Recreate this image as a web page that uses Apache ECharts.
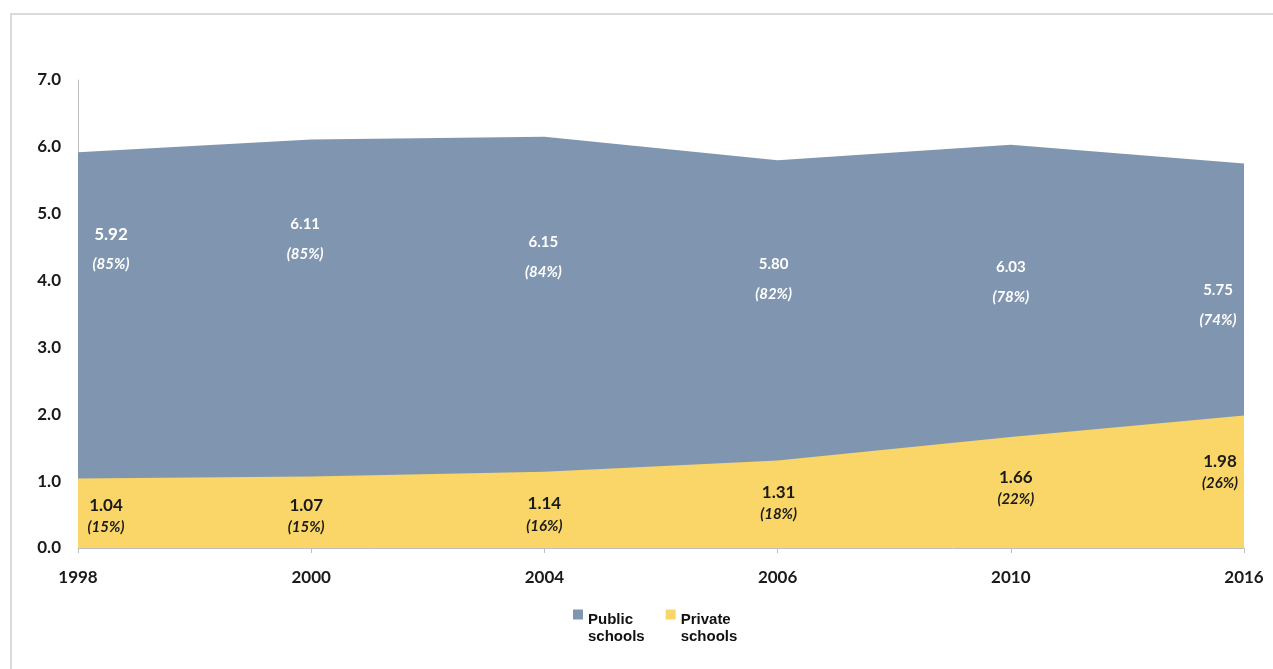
<!DOCTYPE html>
<html>
<head>
<meta charset="utf-8">
<title>Public and private schools</title>
<script src="https://cdn.jsdelivr.net/npm/echarts@6/dist/echarts.min.js"></script>
<style>
  html, body { margin: 0; padding: 0; background: #ffffff; }
  #chart { width: 1273px; height: 669px; }
</style>
</head>
<body>
<div id="chart"></div>
<script>
// Years on the horizontal axis
const years = ['1998', '2000', '2004', '2006', '2010', '2016'];
// Enrolment (millions)
const publicSchools = [5.92, 6.11, 6.15, 5.80, 6.03, 5.75];
const privateSchools = [1.04, 1.07, 1.14, 1.31, 1.66, 1.98];
// Share of total enrolment, as printed under each value
const publicShare = ['85%', '85%', '84%', '82%', '78%', '74%'];
const privateShare = ['15%', '15%', '16%', '18%', '22%', '26%'];
// Y axis
const yTicks = [0, 1, 2, 3, 4, 5, 6, 7];

// Label placement (pixels from each point) and per-point font size
const publicLabelOffset = [[33, 97], [-6, 100], [-1, 120], [-4, 119], [0, 137], [-26, 142]];
const publicValueSize = [17, 15, 15, 15, 15, 15];
const privateLabelOffset = [[28, 38], [-5, 40], [0, 43], [1, 43], [5, 51], [-24, 57]];

const BLUE = '#8096b0';
const YELLOW = '#f9d667';
const FONT = 'Lato, "Open Sans", sans-serif';
const LEGEND_FONT = '"Liberation Sans", Arial, sans-serif';

const chart = echarts.init(document.getElementById('chart'), null, { renderer: 'canvas' });

const publicData = publicSchools.map((v, i) => ({
  value: v,
  label: {
    offset: publicLabelOffset[i],
    rich: {
      v: { fontSize: publicValueSize[i], color: '#ffffff', fontFamily: FONT, fontWeight: 'bold', lineHeight: 30, align: 'center' },
      p: { fontSize: 15, color: '#ffffff', fontFamily: FONT, fontWeight: 'bold', fontStyle: 'italic', lineHeight: 30, align: 'center' }
    }
  }
}));

const privateData = privateSchools.map((v, i) => ({
  value: v,
  label: { offset: privateLabelOffset[i] }
}));

chart.setOption({
  animation: false,
  backgroundColor: '#ffffff',
  graphic: [{
    type: 'rect',
    z: -10,
    shape: { x: 11, y: 14, width: 1400, height: 800 },
    style: { fill: 'none', stroke: '#dadada', lineWidth: 2 }
  }],
  grid: { left: 78, right: 29, top: 80, bottom: 121, containLabel: false },
  legend: {
    left: 568,
    top: 585,
    icon: 'rect',
    itemWidth: 10,
    itemHeight: 10,
    itemGap: 21,
    textStyle: {
      fontFamily: LEGEND_FONT,
      fontWeight: 'bold',
      fontSize: 15,
      color: '#111111',
      rich: {
        // spacer line keeps the swatch level with the first word
        e: { fontSize: 15, lineHeight: 27 },
        t: { fontFamily: LEGEND_FONT, fontWeight: 'bold', fontSize: 15, color: '#111111', lineHeight: 17 }
      }
    },
    formatter: name => {
      const parts = name.split(' ');
      return '{e| }\n{t|' + parts[0] + '}\n{t|' + parts[1] + '}';
    },
    data: [
      { name: 'Public schools', itemStyle: { color: BLUE } },
      { name: 'Private schools', itemStyle: { color: YELLOW } }
    ]
  },
  xAxis: {
    type: 'category',
    data: years,
    boundaryGap: false,
    axisLine: { show: true, lineStyle: { color: '#bfbfbf', width: 1 } },
    axisTick: { show: true, length: 5, lineStyle: { color: '#bfbfbf' } },
    axisLabel: {
      margin: 21,
      fontFamily: FONT,
      fontWeight: 'bold',
      fontSize: 17,
      color: '#1a1a1a'
    },
    splitLine: { show: false }
  },
  yAxis: {
    type: 'value',
    min: yTicks[0],
    max: yTicks[yTicks.length - 1],
    interval: 1,
    axisLine: { show: true, lineStyle: { color: '#bfbfbf', width: 1 } },
    axisTick: { show: false },
    splitLine: { show: false },
    axisLabel: {
      margin: 17,
      fontFamily: FONT,
      fontWeight: 'bold',
      fontSize: 17,
      color: '#1a1a1a',
      formatter: v => v.toFixed(1)
    }
  },
  series: [
    {
      name: 'Public schools',
      type: 'line',
      data: publicData,
      z: 2,
      symbol: 'circle',
      symbolSize: 1,
      showSymbol: true,
      itemStyle: { color: 'transparent', borderWidth: 0 },
      lineStyle: { width: 0, opacity: 0 },
      areaStyle: { color: BLUE, opacity: 1, origin: 'start' },
      label: {
        show: true,
        position: 'inside',
        formatter: p => '{v|' + p.value.toFixed(2) + '}\n{p|(' + publicShare[p.dataIndex] + ')}'
      },
      emphasis: { disabled: true }
    },
    {
      name: 'Private schools',
      type: 'line',
      data: privateData,
      z: 3,
      symbol: 'circle',
      symbolSize: 1,
      showSymbol: true,
      itemStyle: { color: 'transparent', borderWidth: 0 },
      lineStyle: { width: 0, opacity: 0 },
      areaStyle: { color: YELLOW, opacity: 1, origin: 'start' },
      label: {
        show: true,
        position: 'inside',
        formatter: p => '{v|' + p.value.toFixed(2) + '}\n{p|(' + privateShare[p.dataIndex] + ')}',
        rich: {
          v: { fontSize: 17, color: '#1a1a1a', fontFamily: FONT, fontWeight: 'bold', lineHeight: 22, align: 'center' },
          p: { fontSize: 15, color: '#1a1a1a', fontFamily: FONT, fontWeight: 'bold', fontStyle: 'italic', lineHeight: 22, align: 'center' }
        }
      },
      emphasis: { disabled: true }
    }
  ]
});
</script>
</body>
</html>
